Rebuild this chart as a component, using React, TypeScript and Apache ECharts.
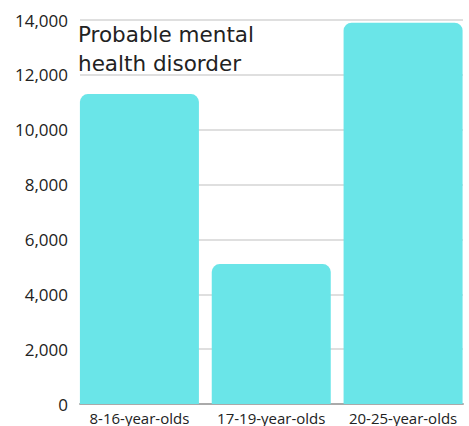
import React, { useEffect, useRef } from "react";
import * as echarts from "echarts";

const categories = ["8-16-year-olds", "17-19-year-olds", "20-25-year-olds"];
const values = [11300, 5100, 13900];
const yMin = 0;
const yMax = 14000;
const yStep = 2000;
const titleLines = ["Probable mental", "health disorder"];

export default function App() {
  const ref = useRef<HTMLDivElement>(null);
  useEffect(() => {
    const chart = echarts.init(ref.current!, null, { renderer: "svg" });
    chart.setOption({
      animation: false,
      backgroundColor: "#ffffff",
      title: {
        text: titleLines.join("\n"),
        left: 78,
        top: 20,
        padding: 0,
        textStyle: {
          fontFamily: "DejaVu Sans",
          fontWeight: "normal",
          fontSize: 21.5,
          lineHeight: 29,
          color: "#222222",
        },
      },
      grid: [
        // frame with gridlines, value labels and baseline
        { left: 80, right: 6, top: 20, bottom: 22, containLabel: false },
        // bars span slightly wider so outer bars sit flush with the frame
        { left: 73.5, right: -0.5, top: 20, bottom: 22, containLabel: false },
      ],
      xAxis: [
        {
          gridIndex: 0,
          type: "category",
          data: categories,
          axisLine: { lineStyle: { color: "#aaaaaa", width: 2 } },
          axisTick: { show: false },
          axisLabel: { show: false },
        },
        {
          gridIndex: 1,
          type: "category",
          data: categories,
          axisLine: { show: false },
          axisTick: { show: false },
          axisLabel: {
            interval: 0,
            fontFamily: "Open Sans",
            fontSize: 15,
            lineHeight: 17,
            color: "#222222",
            margin: 5,
          },
        },
      ],
      yAxis: [
        {
          gridIndex: 0,
          type: "value",
          min: yMin,
          max: yMax,
          interval: yStep,
          axisLine: { show: false },
          axisTick: { show: false },
          splitLine: { lineStyle: { color: "#d4d4d4", width: 1.5 } },
          axisLabel: {
            fontFamily: "Open Sans",
            fontSize: 17,
            color: "#222222",
            margin: 12,
            formatter: (v: number) => v.toLocaleString("en-US"),
          },
        },
        {
          gridIndex: 1,
          type: "value",
          min: yMin,
          max: yMax,
          interval: yStep,
          show: false,
          splitLine: { show: false },
        },
      ],
      series: [
        {
          type: "bar",
          xAxisIndex: 1,
          yAxisIndex: 1,
          data: values,
          barWidth: 119,
          itemStyle: { color: "#6ae5e8", borderRadius: [8, 8, 0, 0] },
        },
      ],
    });
    return () => chart.dispose();
  }, []);
  return (
    <div
      ref={ref}
      style={{ position: "absolute", left: 0, top: 0, width: 469, height: 426 }}
    />
  );
}
